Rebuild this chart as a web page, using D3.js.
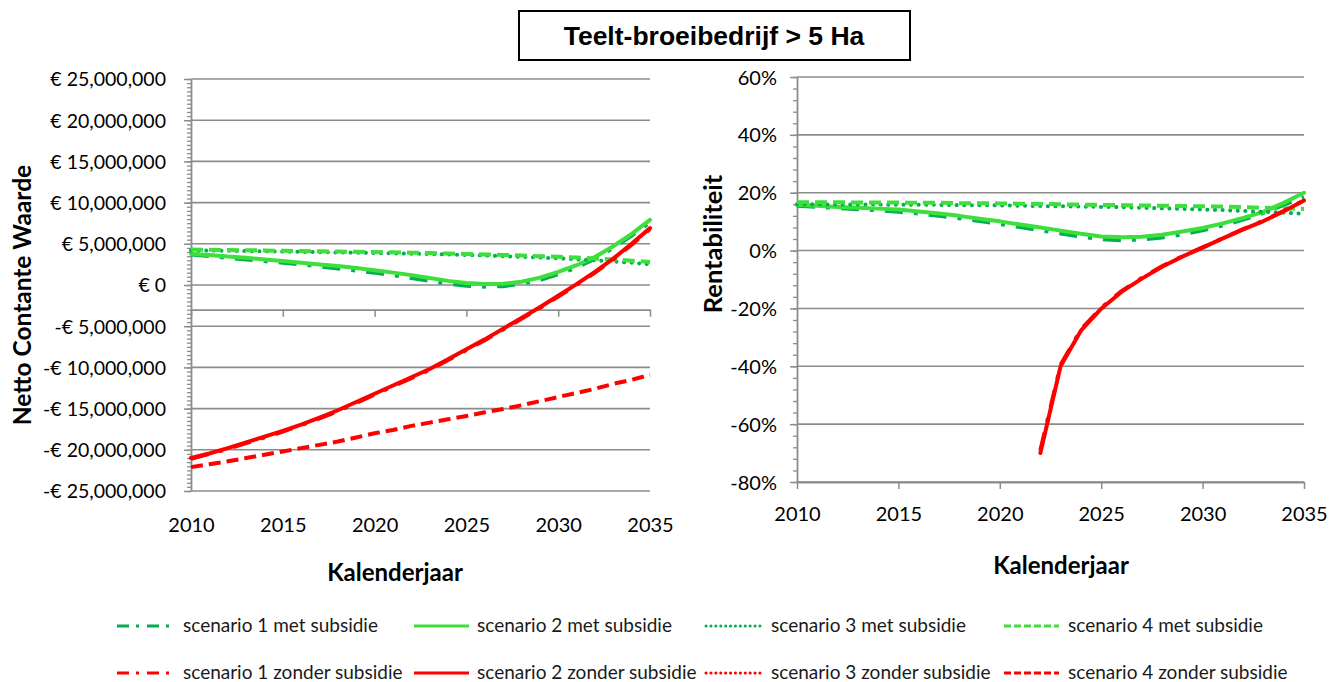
<!DOCTYPE html>
<html><head><meta charset="utf-8">
<script src="https://cdn.jsdelivr.net/npm/d3@7"></script>
<style>
body{margin:0;background:#fff;}
svg{display:block;}
</style>
</head><body>
<svg id="c" width="1331" height="682" font-family="Lato, 'Open Sans', sans-serif"></svg>
<script>
// ---------- DATA ----------
const years = [2010,2011,2012,2013,2014,2015,2016,2017,2018,2019,2020,2021,2022,2023,2024,2025,2026,2027,2028,2029,2030,2031,2032,2033,2034,2035];
const yearTicks = [2010,2015,2020,2025,2030,2035];
const ncwTicks = [25,20,15,10,5,0,-5,-10,-15,-20,-25];      // millions of euro
const renTicks = [60,40,20,0,-20,-40,-60,-80];              // percent

const seriesNames = ["scenario 1 met subsidie","scenario 2 met subsidie","scenario 3 met subsidie","scenario 4 met subsidie",
                     "scenario 1 zonder subsidie","scenario 2 zonder subsidie","scenario 3 zonder subsidie","scenario 4 zonder subsidie"];

// Netto Contante Waarde (million euro)
const ncwS1Met = [3.7,3.5,3.3,3.1,2.9,2.7,2.5,2.25,2.0,1.75,1.5,1.2,0.85,0.5,0.15,-0.1,-0.2,-0.15,0.15,0.6,1.3,2.1,3.2,4.5,6.0,7.6];
const ncwS2Met = [3.8,3.65,3.45,3.3,3.1,2.9,2.7,2.5,2.3,2.05,1.8,1.5,1.2,0.85,0.5,0.25,0.12,0.15,0.4,0.9,1.6,2.4,3.4,4.7,6.2,7.9];
const ncwS3Met = [4.2,4.18,4.15,4.12,4.09,4.05,4.02,3.98,3.95,3.92,3.88,3.84,3.8,3.75,3.7,3.65,3.58,3.5,3.42,3.33,3.24,3.12,3.0,2.85,2.7,2.5];
const ncwS4Met = [4.3,4.28,4.25,4.22,4.19,4.15,4.12,4.09,4.06,4.03,4.0,3.96,3.92,3.87,3.82,3.77,3.71,3.65,3.58,3.5,3.42,3.33,3.22,3.1,2.95,2.8];
const ncwS1Zonder = [-21.1,-20.5,-19.9,-19.2,-18.5,-17.8,-17.0,-16.2,-15.3,-14.3,-13.3,-12.3,-11.3,-10.3,-9.1,-7.9,-6.7,-5.4,-4.1,-2.8,-1.4,0.0,1.5,3.1,4.9,6.8];
const ncwS2Zonder = [-21.0,-20.45,-19.8,-19.1,-18.4,-17.7,-16.95,-16.1,-15.2,-14.2,-13.2,-12.2,-11.2,-10.2,-9.0,-7.8,-6.6,-5.3,-4.0,-2.7,-1.3,0.1,1.6,3.2,5.0,6.9];
const ncwS3Zonder = [null,null,null,null,null,null,null,null,null,null,null,null,null,null,null,null,null,null,null,null,null,null,null,null,null,null];
const ncwS4Zonder = [-22.1,-21.75,-21.4,-21.0,-20.6,-20.2,-19.8,-19.4,-19.0,-18.5,-18.0,-17.6,-17.1,-16.7,-16.3,-15.9,-15.45,-15.05,-14.6,-14.1,-13.6,-13.1,-12.6,-12.0,-11.5,-10.9];

// Rentabiliteit (percent)
const renS1Met = [15.5,15.1,14.7,14.3,13.9,13.4,12.8,12.0,11.2,10.2,9.2,8.1,7.0,5.9,4.8,3.9,3.6,3.8,4.5,5.6,7.0,8.7,10.7,13.0,15.8,18.5];
const renS2Met = [15.8,15.5,15.1,14.8,14.5,14.2,13.5,12.8,12.0,11.0,10.1,9.0,8.0,6.9,5.8,4.9,4.6,4.8,5.5,6.6,7.8,9.4,11.3,13.4,16.5,20.0];
const renS3Met = [16.0,16.0,15.9,15.9,15.9,15.8,15.8,15.8,15.7,15.7,15.6,15.5,15.4,15.3,15.2,15.1,15.0,14.8,14.6,14.4,14.2,14.0,13.7,13.4,13.1,12.7];
const renS4Met = [16.7,16.7,16.7,16.6,16.6,16.6,16.5,16.5,16.4,16.4,16.3,16.2,16.1,16.0,15.9,15.8,15.7,15.6,15.5,15.4,15.3,15.2,15.0,14.8,14.6,14.4];
const renS1Zonder = [null,null,null,null,null,null,null,null,null,null,null,null,-69.0,-39.5,-27.3,-19.8,-14.0,-9.5,-5.4,-2.0,1.1,4.3,7.4,10.3,13.7,17.4];
const renS2Zonder = [null,null,null,null,null,null,null,null,null,null,null,null,-70.0,-39.9,-27.7,-20.1,-14.3,-9.7,-5.6,-2.1,1.0,4.2,7.3,10.2,13.6,17.3];
const renS3Zonder = [null,null,null,null,null,null,null,null,null,null,null,null,null,null,null,null,null,null,null,null,null,null,null,null,null,null];
const renS4Zonder = [null,null,null,null,null,null,null,null,null,null,null,null,null,null,null,null,null,null,null,null,null,null,null,null,null,null];

// ---------- STYLE ----------
const darkGreen = "#00b050", lightGreen = "#3ddf3d", red = "#ff0000";
const styles = [
  {color: darkGreen,  dash: "18,11,4,11", ldash: "12,7,3,8", cap: "butt"},
  {color: lightGreen, dash: null, ldash: null, cap: "round"},
  {color: darkGreen,  dash: "0.1,7.5", ldash: "0.1,4.8", cap: "round"},
  {color: lightGreen, dash: "12,6", ldash: "7,3", cap: "butt"},
  {color: red,  dash: "18,11,4,11", ldash: "12,7,3,8", cap: "butt"},
  {color: red,  dash: null, ldash: null, cap: "round"},
  {color: red,  dash: "0.1,7.5", ldash: "0.1,4.8", cap: "round"},
  {color: red,  dash: "12,6", ldash: "7,3", cap: "butt"}
];
const gridColor = "#8c8c8c";

const svg = d3.select("#c");

function drawPanel(cfg) {
  const x = d3.scaleLinear().domain([years[0], years[years.length-1]]).range(cfg.xRange);
  const y = d3.scaleLinear().domain(cfg.yDomain).range(cfg.yRange);
  const g = svg.append("g");

  // gridlines
  g.append("g").selectAll("line").data(cfg.ticks).join("line")
    .attr("x1", cfg.xRange[0]).attr("x2", cfg.xRange[1])
    .attr("y1", d => y(d)).attr("y2", d => y(d))
    .attr("stroke", gridColor).attr("stroke-width", 1.6);

  // minor y ticks
  const minor = g.append("g").attr("transform", `translate(${cfg.xRange[0]},0)`)
    .call(d3.axisLeft(y).tickValues(cfg.minorTicks).tickSize(4).tickFormat(""));
  minor.select(".domain").remove();
  minor.selectAll("line").attr("stroke", gridColor).attr("stroke-width", 1.3);

  // major y axis
  const ya = g.append("g").attr("transform", `translate(${cfg.xRange[0]},0)`)
    .call(d3.axisLeft(y).tickValues(cfg.ticks).tickSize(7).tickSizeOuter(0).tickPadding(cfg.yLabelPad).tickFormat(cfg.fmt));
  ya.attr("font-family", null).attr("font-size", null);
  ya.select(".domain").attr("stroke", gridColor).attr("stroke-width", 1.8);
  ya.selectAll(".tick line").attr("stroke", gridColor).attr("stroke-width", 1.5);
  ya.selectAll("text").attr("font-size", cfg.yFont).attr("dy", "0.35em").attr("fill", "#000");

  // x axis line + ticks
  const xa = g.append("g").attr("transform", `translate(0,${y(cfg.xCross)})`)
    .call(d3.axisBottom(x).tickValues(yearTicks).tickSize(7).tickSizeOuter(0).tickFormat(""));
  xa.select(".domain").attr("stroke", gridColor).attr("stroke-width", 1.8);
  xa.selectAll(".tick line").attr("stroke", gridColor).attr("stroke-width", 1.5);

  // x tick labels
  const xl = g.append("g").attr("transform", `translate(0,${cfg.xLabelY})`)
    .call(d3.axisBottom(x).tickValues(yearTicks).tickSize(0).tickPadding(0).tickFormat(d3.format("d")));
  xl.attr("font-family", null).attr("font-size", null);
  xl.select(".domain").remove();
  xl.selectAll("text").attr("font-size", 20).attr("y", 0).attr("dy", null).attr("fill", "#000");

  // axis titles
  g.append("text").attr("x", cfg.xTitle[0]).attr("y", cfg.xTitle[1])
    .attr("text-anchor", "middle").attr("font-weight", "bold").attr("font-size", 24).text("Kalenderjaar");
  g.append("text").attr("transform", `translate(${cfg.yTitle[0]},${cfg.yTitle[1]}) rotate(-90)`)
    .attr("text-anchor", "middle").attr("font-weight", "bold").attr("font-size", cfg.yTitleFont).text(cfg.yTitleText);

  // series
  const line = d3.line().defined(d => d[1] != null).x(d => x(d[0])).y(d => y(d[1])).curve(d3.curveLinear);
  cfg.series.forEach((vals, i) => {
    const pts = years.map((yr, k) => [yr, vals[k]]);
    if (pts.every(p => p[1] == null)) return;
    const s = styles[i];
    g.append("path").datum(pts).attr("d", line)
      .attr("fill", "none").attr("stroke", s.color).attr("stroke-width", 4)
      .attr("stroke-linecap", s.cap).attr("stroke-linejoin", "round")
      .attr("stroke-dasharray", s.dash);
  });
}

drawPanel({
  xRange: [191, 650], yDomain: [-25, 25], yRange: [491, 79],
  ticks: ncwTicks, minorTicks: d3.range(-25, 25.001, 0.5),
  fmt: v => (v < 0 ? "-" : "") + "€ " + d3.format(",")(Math.abs(v) * 1e6),
  yLabelPad: 18, yFont: 19.5, xCross: -3, xLabelY: 532,
  xTitle: [395, 581], yTitle: [31, 295], yTitleText: "Netto Contante Waarde", yTitleFont: 24.5,
  series: [ncwS1Met, ncwS2Met, ncwS3Met, ncwS4Met, ncwS1Zonder, ncwS2Zonder, ncwS3Zonder, ncwS4Zonder]
});

drawPanel({
  xRange: [797, 1304], yDomain: [-80, 60], yRange: [482, 77],
  ticks: renTicks, minorTicks: d3.range(-80, 60.001, 4),
  fmt: v => v + "%",
  yLabelPad: 13, yFont: 20, xCross: -80, xLabelY: 521,
  xTitle: [1061, 574], yTitle: [722, 244], yTitleText: "Rentabiliteit", yTitleFont: 25.5,
  series: [renS1Met, renS2Met, renS3Met, renS4Met, renS1Zonder, renS2Zonder, renS3Zonder, renS4Zonder]
});

// title box
svg.append("rect").attr("x", 519).attr("y", 11).attr("width", 391).attr("height", 49)
  .attr("fill", "#fff").attr("stroke", "#000").attr("stroke-width", 2);
svg.append("text").attr("x", 714).attr("y", 44.5).attr("text-anchor", "middle")
  .style("font-family", "'Liberation Sans', Arial, sans-serif").attr("font-weight", "bold").attr("font-size", 26.5)
  .text("Teelt-broeibedrijf > 5 Ha");

// legend
const legRows = [626, 673];
const legSymX = [117, 414, 706, 1004];
const legTextX = [183, 477, 771, 1068];
const legend = svg.append("g");
seriesNames.forEach((name, i) => {
  const row = Math.floor(i / 4), col = i % 4, s = styles[i];
  const ly = legRows[row];
  legend.append("line").attr("x1", legSymX[col]).attr("x2", legSymX[col] + 55)
    .attr("y1", ly).attr("y2", ly).attr("stroke", s.color).attr("stroke-width", 3)
    .attr("stroke-linecap", s.dash ? s.cap : "butt").attr("stroke-dasharray", s.ldash);
  legend.append("text").attr("x", legTextX[col]).attr("y", ly).attr("dy", "0.32em")
    .attr("font-size", 19).attr("fill", "#1a1a1a").text(name);
});
</script>
</body></html>
